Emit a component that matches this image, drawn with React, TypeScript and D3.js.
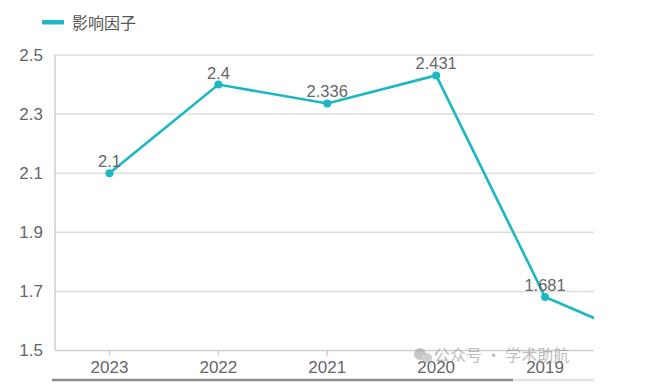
import React from "react";
import * as d3 from "d3";

const categories = ["2023", "2022", "2021", "2020", "2019", "2018"];
const values = [2.1, 2.4, 2.336, 2.431, 1.681, 1.523];
const labels = ["2.1", "2.4", "2.336", "2.431", "1.681", "1.523"];
const yTicks = [1.5, 1.7, 1.9, 2.1, 2.3, 2.5];
const seriesName = "影响因子";
const watermark = "公众号 · 学术助航";

const W = 666;
const H = 388;
const left = 55;
const right = 594;
const top = 55;
const bottom = 350.5;
const step = 108.9;
const color = "#1bb8c3";
const font = "'Liberation Sans', Arial, sans-serif";

export default function App() {
  const x = d3
    .scaleBand<string>()
    .domain(categories)
    .range([left, left + step * categories.length])
    .paddingInner(0)
    .paddingOuter(0);
  const y = d3.scaleLinear().domain([1.5, 2.5]).range([bottom, top]);
  const cx = (c: string) => (x(c) as number) + x.bandwidth() / 2;
  const pts = categories.map((c, i) => [cx(c), y(values[i])] as [number, number]);
  const line = d3.line()(pts) as string;
  const visible = (px: number) => px < right;

  return (
    <svg
      width={W}
      height={H}
      style={{ position: "absolute", left: 0, top: 0, background: "#fff" }}
      fontFamily={font}
    >
      <defs>
        <clipPath id="plotClip">
          <rect x={left - 10} y={0} width={right - left + 10} height={H} />
        </clipPath>
      </defs>
      {/* legend */}
      <rect x={42} y={20} width={22} height={4.5} fill={color} rx={1} />
      <text x={72} y={28.5} fontSize={16} fill="#555" fontFamily="'Noto Sans CJK SC', sans-serif">
        {seriesName}
      </text>
      {/* grid */}
      {yTicks.map((t) => (
        <g key={t}>
          <line x1={left} x2={right} y1={y(t)} y2={y(t)} stroke={t === 1.5 ? "#cfcfcf" : "#dedede"} strokeWidth={1.5} />
          <text x={43} y={y(t)} textAnchor="end" dominantBaseline="central" fontSize={17} fill="#666">
            {t.toFixed(1)}
          </text>
        </g>
      ))}
      <line x1={left} x2={left} y1={top} y2={bottom} stroke="#cfcfcf" strokeWidth={1.5} />
      <g clipPath="url(#plotClip)">
        {categories.filter((c) => visible(cx(c))).map((c) => (
          <g key={c}>
            <line x1={cx(c)} x2={cx(c)} y1={bottom} y2={bottom + 5} stroke="#cfcfcf" strokeWidth={1.5} />
            <text x={cx(c)} y={373} textAnchor="middle" fontSize={17} fill="#666">
              {c}
            </text>
          </g>
        ))}
        <path d={line} fill="none" stroke={color} strokeWidth={2.6} />
        {pts.map((p, i) =>
          visible(p[0]) ? (
            <g key={i}>
              <circle cx={p[0]} cy={p[1]} r={4} fill={color} />
              <text x={p[0]} y={p[1] - 6} textAnchor="middle" fontSize={16.5} fill="#666">
                {labels[i]}
              </text>
            </g>
          ) : null
        )}
      </g>
      {/* scrollbar */}
      <line x1={513} x2={594} y1={380} y2={380} stroke="#e2e2e2" strokeWidth={2.5} />
      <line x1={52} x2={513} y1={380} y2={380} stroke="#8a8a8a" strokeWidth={2.5} />
      {/* watermark */}
      <g opacity={0.55}>
        <circle cx={420} cy={354} r={6} fill="#999" />
        <circle cx={427} cy={358} r={5} fill="#aaa" />
        <text x={434} y={361} fontSize={16} fill="#888" fontFamily="'Noto Sans CJK SC', sans-serif">
          {watermark}
        </text>
      </g>
    </svg>
  );
}
